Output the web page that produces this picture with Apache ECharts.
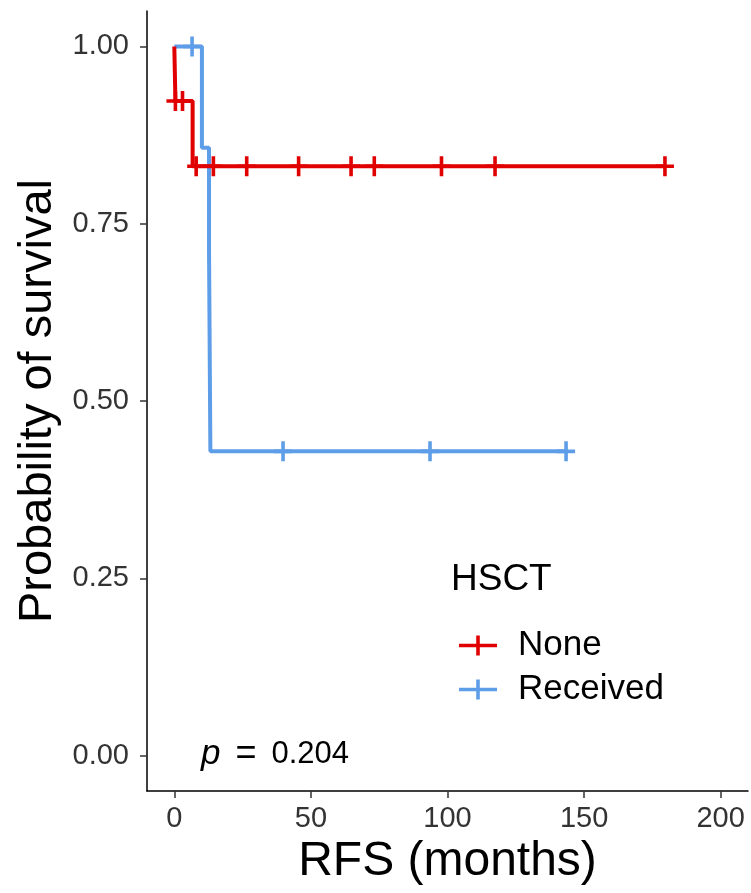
<!DOCTYPE html>
<html>
<head>
<meta charset="utf-8">
<script src="https://cdn.jsdelivr.net/npm/echarts@6/dist/echarts.min.js"></script>
<style>
  html, body { margin: 0; padding: 0; background: #fff; }
  #km { width: 751px; height: 893px; }
</style>
</head>
<body>
<div id="km"></div>
<script>
// step curve points (time in months, survival probability)
const noneTimes = [0, 0.4, 6.7, 179.6];
const noneSurv = [1, 0.923, 0.831, 0.831];
const noneCensorTimes = [0.4, 3.0, 8.0, 14.3, 26.5, 45.5, 64.7, 73.2, 97.8, 117.4, 179.6];
const noneCensorSurv = [0.923, 0.923, 0.831, 0.831, 0.831, 0.831, 0.831, 0.831, 0.831, 0.831, 0.831];

const recTimes = [0, 10.1, 12.7, 13.2, 143.4];
const recSurv = [1, 0.857, 0.714, 0.429, 0.429];
const recCensorTimes = [6.5, 39.8, 93.6, 143.4];
const recCensorSurv = [1, 0.429, 0.429, 0.429];

const xTicks = [0, 50, 100, 150, 200];
const yTicks = [0, 0.25, 0.5, 0.75, 1];
const groups = ['None', 'Received'];
const colors = ['#E00000', '#5E9EE8'];

const FONT = 'Arial, "Liberation Sans", Helvetica, sans-serif';
const cross = 'path://M-1.8,-10H1.8V-1.8H9V1.8H1.8V10H-1.8V1.8H-9V-1.8H-1.8Z';
const keyIcon = 'path://M0,8.2H17.2V0H20.8V8.2H38V11.8H20.8V20H17.2V11.8H0Z';

const zip = (a, b) => a.map((v, i) => [v, b[i]]);

const chart = echarts.init(document.getElementById('km'));
chart.setOption({
  animation: false,
  grid: { left: 147, right: 3, top: 11, bottom: 102 },
  xAxis: {
    type: 'value',
    min: -10,
    max: 210,
    name: 'RFS (months)',
    nameLocation: 'middle',
    nameGap: 46,
    nameTextStyle: { fontSize: 48, color: '#000', fontFamily: FONT },
    axisLine: { onZero: false, lineStyle: { color: '#000', width: 1.5 } },
    axisTick: { show: true, length: 7, customValues: xTicks, lineStyle: { color: '#333', width: 1.5 } },
    axisLabel: { customValues: xTicks, margin: 13, fontSize: 29, color: '#333', fontFamily: FONT },
    splitLine: { show: false }
  },
  yAxis: {
    type: 'value',
    min: -0.05,
    max: 1.05,
    name: 'Probability of survival',
    nameLocation: 'middle',
    nameGap: 80,
    nameTextStyle: { fontSize: 47, color: '#000', fontFamily: FONT },
    axisLine: { show: true, onZero: false, lineStyle: { color: '#000', width: 1.5 } },
    axisTick: { show: true, length: 7, customValues: yTicks, lineStyle: { color: '#333', width: 1.5 } },
    axisLabel: {
      customValues: yTicks, margin: 18, fontSize: 29, color: '#333', fontFamily: FONT,
      formatter: v => v.toFixed(2)
    },
    splitLine: { show: false }
  },
  legend: {
    orient: 'vertical',
    left: 454,
    top: 623,
    itemWidth: 38,
    itemHeight: 20,
    itemGap: 9,
    data: groups.map(g => ({ name: g, icon: keyIcon })),
    textStyle: { fontSize: 35, color: '#000', fontFamily: FONT, padding: [0, 0, 0, 16] },
    selectedMode: false
  },
  graphic: [
    {
      type: 'text', left: 451, top: 561,
      style: { text: 'HSCT', fontSize: 37, fill: '#000', fontFamily: FONT }
    },
    {
      type: 'text', left: 201, top: 736,
      style: {
        text: '{i|p}{e|=}0.204',
        fontSize: 31, fill: '#000', fontFamily: FONT,
        rich: {
          i: { fontStyle: 'italic', fontSize: 35, fontFamily: FONT },
          e: { fontSize: 36, fontFamily: FONT, padding: [0, 15, 0, 15] }
        }
      }
    }
  ],
  series: [
    {
      name: groups[0], type: 'line', step: 'end', symbol: 'none',
      data: zip(noneTimes, noneSurv),
      itemStyle: { color: colors[0] }, lineStyle: { color: colors[0], width: 4 }, z: 3
    },
    {
      name: groups[1], type: 'line', step: 'end', symbol: 'none',
      data: zip(recTimes, recSurv),
      itemStyle: { color: colors[1] }, lineStyle: { color: colors[1], width: 4 }, z: 2
    },
    {
      name: 'None censored', type: 'scatter', symbol: cross, symbolSize: [18, 20],
      data: zip(noneCensorTimes, noneCensorSurv),
      itemStyle: { color: colors[0], opacity: 1 }, z: 5
    },
    {
      name: 'Received censored', type: 'scatter', symbol: cross, symbolSize: [18, 20],
      data: zip(recCensorTimes, recCensorSurv),
      itemStyle: { color: colors[1], opacity: 1 }, z: 4
    }
  ]
});
</script>
</body>
</html>
